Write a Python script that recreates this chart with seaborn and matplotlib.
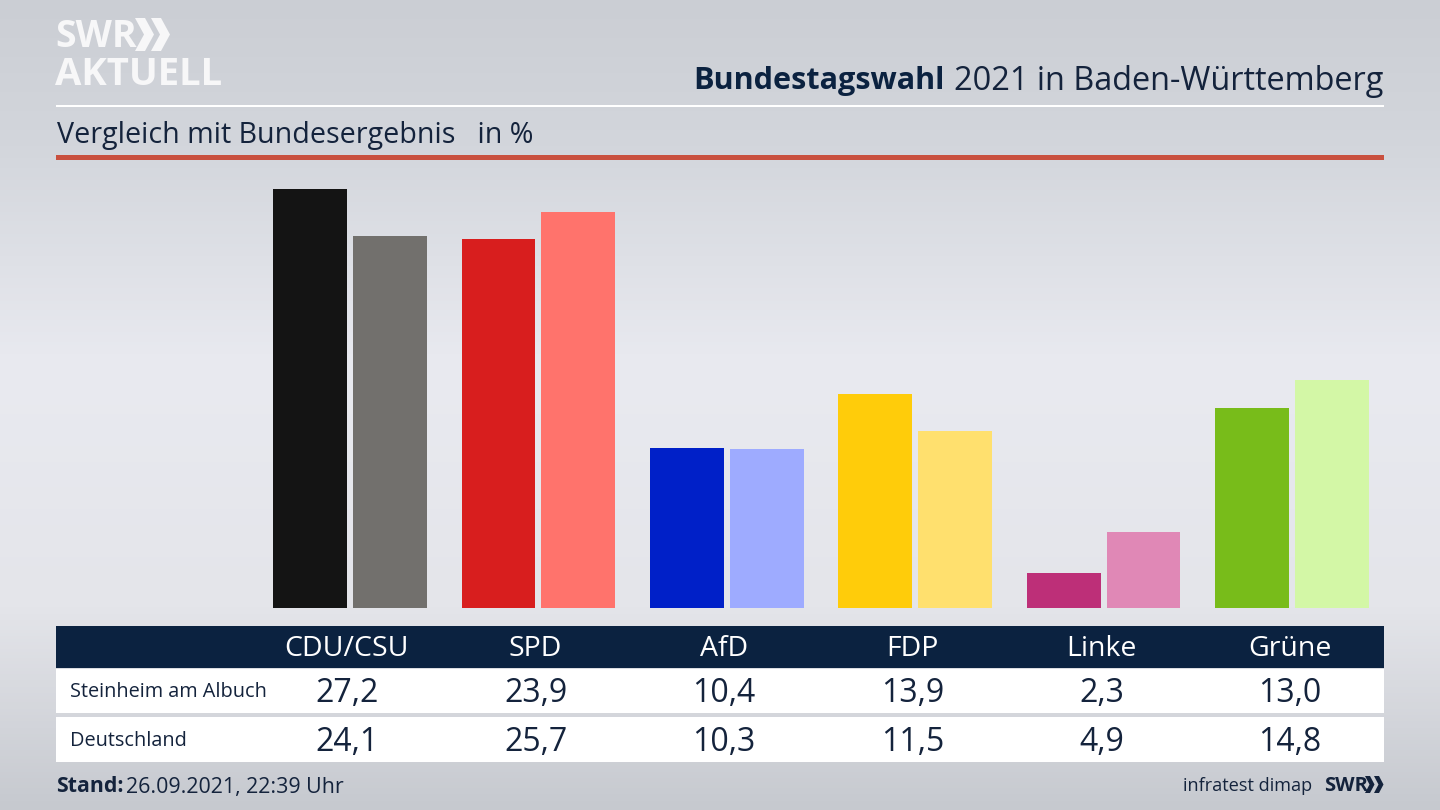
import matplotlib
matplotlib.use('Agg')
import matplotlib.pyplot as plt
import numpy as np
import pandas as pd
import seaborn as sns
from matplotlib.colors import LinearSegmentedColormap
from matplotlib.patches import Polygon, Rectangle

# Data
parties = ['CDU/CSU', 'SPD', 'AfD', 'FDP', 'Linke', 'Grüne']
steinheim = [27.2, 23.9, 10.4, 13.9, 2.3, 13.0]
deutschland = [24.1, 25.7, 10.3, 11.5, 4.9, 14.8]
colors_local = ['#141414', '#d81e1e', '#0020c8', '#ffcc0a', '#bd2f78', '#78bc1a']
colors_bund = ['#72706d', '#ff736c', '#9eabff', '#ffe06e', '#e088b6', '#d3f7a6']
region_local = 'Steinheim am Albuch'
region_bund = 'Deutschland'

NAVY = '#0b2240'
TEXT = '#14233c'
W, H = 1440, 810
AX_LEFT, AX_WIDTH = 255.8, 1130.4


def chevron(axis, x0, y0, y1, t, d, color):
    mid = (y0 + y1) / 2
    axis.add_patch(Polygon([(x0, y0), (x0 + t, y0), (x0 + t + d, mid), (x0 + t, y1),
                            (x0, y1), (x0 + d, mid)], color=color, lw=0))


sns.set_theme(style='white')
plt.rcParams['font.family'] = ['Open Sans', 'DejaVu Sans']

fig = plt.figure(figsize=(14.4, 8.1), dpi=100)

# Background and all furniture, in pixel coordinates
bg = fig.add_axes([0, 0, 1, 1], zorder=0)
bg.set_xlim(0, W)
bg.set_ylim(H, 0)
bg.axis('off')
grad = LinearSegmentedColormap.from_list(
    'bg', [(0, '#cbced4'), (0.18, '#d3d6dc'), (0.45, '#e9eaf0'),
           (0.75, '#e4e5ea'), (1, '#c6c9cf')])
bg.imshow(np.linspace(0, 1, 256).reshape(-1, 1), cmap=grad, aspect='auto',
          extent=[0, W, H, 0], zorder=0)

# Rules under the header
bg.add_patch(Rectangle((56, 104.5), 1328, 2.5, color='white', lw=0))
bg.add_patch(Rectangle((56, 155), 1328, 5, color='#c9503f', lw=0))

# Logo
bg.text(55, 37, 'SWR', color='#f7f7f8', fontsize=27, fontweight='bold', va='center', ha='left')
chevron(bg, 135, 18, 51, 10, 9, '#f7f7f8')
chevron(bg, 151, 18, 51, 10, 9, '#f7f7f8')
bg.text(55, 75, 'AKTUELL', color='#f7f7f8', fontsize=27.5, fontweight='bold', va='center', ha='left')

# Header
bg.text(693, 81, 'Bundestagswahl', color=NAVY, fontsize=22.1, fontweight='bold', va='center', ha='left')
bg.text(1383, 81, '2021 in Baden-Württemberg', color=TEXT, fontsize=23.4, va='center', ha='right')
bg.text(57, 135, 'Vergleich mit Bundesergebnis   in %', color=TEXT, fontsize=20.6, va='center', ha='left')

# Bars
df = pd.DataFrame({
    'party': parties * 2,
    'region': [region_local] * len(parties) + [region_bund] * len(parties),
    'value': steinheim + deutschland,
})
ax = fig.add_axes([AX_LEFT / W, 1 - 608 / H, AX_WIDTH / W, 448 / H], zorder=1)
ax.patch.set_alpha(0)
sns.barplot(data=df, x='party', y='value', hue='region', order=parties,
            width=0.848, gap=0.076, legend=False, ax=ax, saturation=1)
for bars, cols in zip(ax.containers, [colors_local, colors_bund]):
    for bar, col in zip(bars, cols):
        bar.set_facecolor(col)
        bar.set_edgecolor('none')
ax.set_xlim(-0.5, 5.5)
ax.set_ylim(0, 29.05)
ax.axis('off')

# Table
bg.add_patch(Rectangle((56, 626), 1328, 42, color=NAVY, lw=0))
bg.add_patch(Rectangle((56, 669), 1328, 44, color='white', lw=0))
bg.add_patch(Rectangle((56, 717), 1328, 45, color='white', lw=0))

for i, party in enumerate(parties):
    # table columns sit a few pixels left of the bar groups
    px = AX_LEFT + (i + 0.5) * AX_WIDTH / 6 - 3 + i * 0.2
    bg.text(px, 649, party, color='white', fontsize=20.5, va='center', ha='center')
    bg.text(px, 693.5, f'{steinheim[i]:.1f}'.replace('.', ','), color=TEXT, fontsize=23, va='center', ha='center')
    bg.text(px, 742.5, f'{deutschland[i]:.1f}'.replace('.', ','), color=TEXT, fontsize=23, va='center', ha='center')
bg.text(70, 692, region_local, color=TEXT, fontsize=14.3, va='center', ha='left')
bg.text(70, 741, region_bund, color=TEXT, fontsize=14.3, va='center', ha='left')

# Footer
bg.text(56, 787, 'Stand:', color=TEXT, fontsize=15.3, fontweight='bold', va='center', ha='left')
bg.text(126, 787, '26.09.2021, 22:39 Uhr', color=TEXT, fontsize=15.4, va='center', ha='left')
bg.text(1312, 786, 'infratest dimap', color=TEXT, fontsize=13.1, va='center', ha='right')
bg.text(1324, 786, 'SWR', color=TEXT, fontsize=14.5, fontweight='bold', va='center', ha='left')
chevron(bg, 1365, 776, 793, 5, 4.5, TEXT)
chevron(bg, 1374, 776, 793, 5, 4.5, TEXT)

fig.savefig('out.png', dpi=100)
